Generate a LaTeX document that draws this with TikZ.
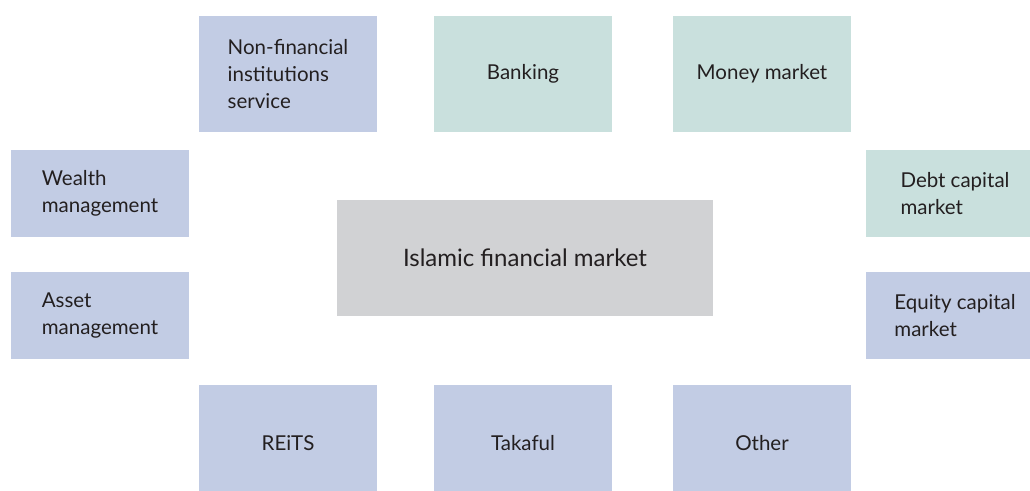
\documentclass[tikz,border=0pt]{standalone}
\usepackage{fontspec}
\setmainfont{Lato}
\definecolor{boxblue}{HTML}{C2CCE4}
\definecolor{boxgreen}{HTML}{C9E0DD}
\definecolor{boxgray}{HTML}{D1D2D4}
\definecolor{inkdark}{HTML}{231F20}
\begin{document}
\begin{tikzpicture}[x=1pt,y=-1pt,
  every node/.style={inner sep=0pt, outer sep=0pt, text=inkdark,
    font=\fontsize{20.5}{26.7}\selectfont, align=left},
  tile/.style={rectangle, minimum width=178pt, minimum height=116pt},
  sidetile/.style={rectangle, minimum width=178pt, minimum height=87pt},
  bluetile/.style={fill=boxblue},
  greentile/.style={fill=boxgreen},
  hubtile/.style={rectangle, fill=boxgray, minimum width=376pt, minimum height=116pt,
    font=\fontsize{24}{29}\selectfont}]
  \useasboundingbox (0,0) rectangle (1030,490);
  \clip (0,0) rectangle (1030,490);
  % top row
  \node[tile, bluetile]  (nonfin) at (288,74) {Non-financial\\institutions\\service};
  \node[tile, greentile] (bank)   at (523,74) {Banking};
  \node[tile, greentile] (money)  at (762,74) {Money market};
  % side columns
  \node[sidetile, bluetile]  (wealth) at (100,193.5) {Wealth\\management};
  \node[sidetile, bluetile]  (asset)  at (100,315.5) {Asset\\management};
  \node[sidetile, greentile] (debt)   at (955,193.5) {Debt capital\\market};
  \node[sidetile, bluetile]  (equity) at (955,315.5) {Equity capital\\market};
  % centre
  \node[hubtile] (hub) at (525,258) {Islamic financial market};
  % bottom row
  \node[tile, bluetile] (reits)   at (288,443) {REiTS};
  \node[tile, bluetile] (takaful) at (523,443) {Takaful};
  \node[tile, bluetile] (other)   at (762,443) {Other};
\end{tikzpicture}
\end{document}
